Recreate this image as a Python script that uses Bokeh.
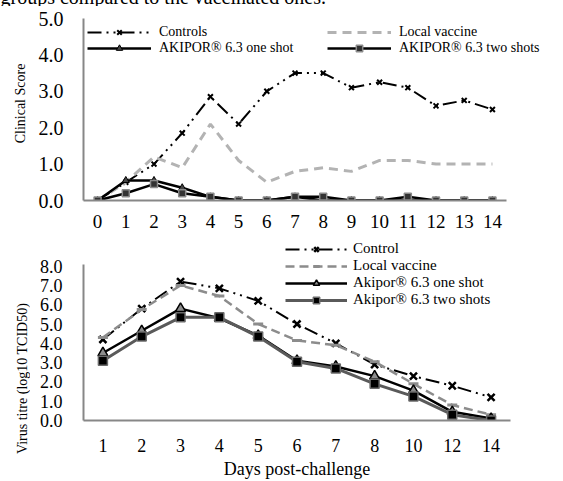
import math
from bokeh.plotting import figure
from bokeh.models import (Range1d, FactorRange, Legend, LegendItem, Label,
                          FixedTicker, NumeralTickFormatter)
from bokeh.layouts import column, row
from bokeh.embed import file_html
from bokeh.resources import INLINE

FONT = "Liberation Serif"
AXIS_GRAY = "#878787"

# ---- Clinical score data ----
days_clin = list(range(15))
controls = [0, 0.5, 1.0, 1.85, 2.85, 2.1, 3.0, 3.5, 3.5, 3.1, 3.25, 3.1, 2.6, 2.75, 2.5]
local_vac = [0, 0.5, 1.2, 0.9, 2.1, 1.1, 0.5, 0.8, 0.9, 0.8, 1.1, 1.1, 1.0, 1.0, 1.0]
one_shot = [0, 0.55, 0.55, 0.35, 0.1, 0, 0, 0.1, 0, 0, 0, 0, 0, 0, 0]
two_shots = [0, 0.2, 0.45, 0.2, 0.1, 0, 0, 0.1, 0.1, 0, 0, 0.1, 0, 0, 0]
clin_yticks = [0, 1, 2, 3, 4, 5]

# ---- Virus titre data ----
days_titre = ["1", "2", "3", "4", "5", "6", "7", "8", "10", "12", "14"]
titre_control = [4.2, 5.8, 7.2, 6.85, 6.2, 5.0, 4.0, 2.9, 2.3, 1.8, 1.2]
titre_local = [4.3, 5.75, 7.0, 6.45, 5.0, 4.15, 3.9, 3.05, 1.9, 0.8, 0.3]
titre_one = [3.5, 4.65, 5.8, 5.3, 4.4, 3.1, 2.8, 2.3, 1.55, 0.45, 0.1]
titre_two = [3.1, 4.35, 5.35, 5.35, 4.35, 3.05, 2.7, 1.9, 1.25, 0.3, 0.0]
titre_yticks = [0, 1, 2, 3, 4, 5, 6, 7, 8]


def blank_fig(w, h):
    f = figure(width=w, height=h, x_axis_type=None, y_axis_type=None,
               output_backend="svg", toolbar_location=None,
               min_border_left=0, min_border_right=0, min_border_top=0, min_border_bottom=0,
               x_range=Range1d(0, 1), y_range=Range1d(0, 1))
    f.outline_line_color = None
    f.xgrid.grid_line_color = None
    f.ygrid.grid_line_color = None
    f.frame_align = False
    return f


def style_axes(p, yfont, xfont):
    p.outline_line_color = None
    p.xgrid.grid_line_color = None
    p.ygrid.grid_line_color = None
    p.frame_align = False
    for ax in (p.xaxis[0], p.yaxis[0]):
        ax.axis_line_color = AXIS_GRAY
        ax.axis_line_width = 2
        ax.major_tick_line_color = None
        ax.minor_tick_line_color = None
        ax.major_label_text_font = FONT
        ax.major_label_text_color = "black"
        ax.axis_label_text_font = FONT
        ax.axis_label_text_font_style = "normal"
        ax.axis_label_text_color = "black"
    p.yaxis[0].major_label_text_font_size = yfont
    p.xaxis[0].major_label_text_font_size = xfont


def style_legend(leg, fs):
    leg.border_line_color = None
    leg.background_fill_alpha = 0
    leg.label_text_font = FONT
    leg.label_text_font_style = "normal"
    leg.label_text_font_size = fs
    leg.label_text_color = "black"
    leg.glyph_width = 64
    leg.glyph_height = 16
    leg.label_height = 16
    leg.spacing = 0
    leg.padding = 0
    leg.margin = 0
    leg.label_standoff = 8


# ================= Caption strip (its upper part lies above the page) =================
pcap = blank_fig(563, 26)
pcap.add_layout(Label(x=0, y=10, x_units="screen", y_units="screen",
                      text="groups compared to the vaccinated ones.",
                      text_font=FONT, text_font_size="20px", text_color="black",
                      text_baseline="alphabetic", text_align="left"))

# ================= Top chart =================
p1 = figure(width=563, height=234, x_range=Range1d(-0.5, 16.52),
            y_range=Range1d(0, 5.0 + 12 / 36.4),
            output_backend="svg", toolbar_location=None,
            min_border_left=83, min_border_right=0, min_border_top=0, min_border_bottom=40)
style_axes(p1, "20px", "19px")
p1.yaxis[0].ticker = FixedTicker(ticks=clin_yticks)
p1.yaxis[0].formatter = NumeralTickFormatter(format="0.0")
p1.yaxis[0].major_label_standoff = 14
p1.yaxis[0].bounds = (0, 5)
p1.yaxis[0].axis_label = "Clinical Score"
p1.yaxis[0].axis_label_text_font_size = "14px"
p1.yaxis[0].axis_label_standoff = 8
p1.xaxis[0].ticker = FixedTicker(ticks=days_clin)
p1.xaxis[0].major_label_standoff = 8
p1.xaxis[0].bounds = (-0.5, 14.5)

c_line = p1.line(days_clin, controls, line_color="black", line_width=2,
                 line_dash="14 5 2 5 2 5")
c_pts = p1.scatter(days_clin, controls, marker="x", size=7, line_color="black", line_width=2)
l_line = p1.line(days_clin, local_vac, line_color="#b3b3b3", line_width=3, line_dash="9 6")
o_line = p1.line(days_clin, one_shot, line_color="black", line_width=2.5)
o_pts = p1.scatter(days_clin, one_shot, marker="triangle", size=7, fill_color="#444444",
                   line_color="black", line_width=1)
t_line = p1.line(days_clin, two_shots, line_color="black", line_width=2.5)
t_pts = p1.scatter(days_clin, two_shots, marker="square", size=7, fill_color="#333333",
                   line_color="#8a8a8a", line_width=1.5)

leg1 = Legend(items=[LegendItem(label="Controls", renderers=[c_line, c_pts]),
                     LegendItem(label="AKIPOR® 6.3 one shot", renderers=[o_line, o_pts])],
              location=(4, 144))
leg2 = Legend(items=[LegendItem(label="Local vaccine", renderers=[l_line]),
                     LegendItem(label="AKIPOR® 6.3 two shots", renderers=[t_line, t_pts])],
              location=(244, 144))
for lg in (leg1, leg2):
    style_legend(lg, "14px")
    p1.add_layout(lg)

# ================= Bottom chart =================
plab = blank_fig(30, 241)
plab.add_layout(Label(x=22, y=103, x_units="screen", y_units="screen",
                      text="Virus titre (log10 TCID50)", angle=math.pi / 2,
                      text_font=FONT, text_font_size="14px", text_color="black",
                      text_align="center", text_baseline="middle"))

p2 = figure(width=533, height=241, x_range=FactorRange(*days_titre, range_padding=0),
            y_range=Range1d(0, 9.33), output_backend="svg", toolbar_location=None,
            min_border_left=53, min_border_right=53, min_border_top=0, min_border_bottom=52)
style_axes(p2, "18px", "18px")
p2.yaxis[0].ticker = FixedTicker(ticks=titre_yticks)
p2.yaxis[0].formatter = NumeralTickFormatter(format="0.0")
p2.yaxis[0].major_label_standoff = 15
p2.yaxis[0].bounds = (0, 8.1)
p2.xaxis[0].major_label_standoff = 12
p2.xaxis[0].axis_label = "Days post-challenge"
p2.xaxis[0].axis_label_text_font_size = "18px"
p2.xaxis[0].axis_label_standoff = 4

bc_line = p2.line(days_titre, titre_control, line_color="black", line_width=2,
                  line_dash="14 5 2 5 2 5")
bc_pts = p2.scatter(days_titre, titre_control, marker="x", size=10, line_color="black",
                    line_width=2.5)
bl_line = p2.line(days_titre, titre_local, line_color="#8c8c8c", line_width=2.5, line_dash="9 5")
bl_pts = p2.scatter(days_titre, titre_local, marker="dash", size=10, line_color="#8c8c8c",
                    line_width=3)
bo_line = p2.line(days_titre, titre_one, line_color="black", line_width=2.5)
bo_pts = p2.scatter(days_titre, titre_one, marker="triangle", size=10, fill_color="#8c8c8c",
                    line_color="black", line_width=1.5)
bt_line = p2.line(days_titre, titre_two, line_color="#5a5a5a", line_width=3)
bt_pts = p2.scatter(days_titre, titre_two, marker="square", size=9, fill_color="black",
                    line_color="#6a6a6a", line_width=1.5)

leg3 = Legend(items=[LegendItem(label="Control", renderers=[bc_line, bc_pts]),
                     LegendItem(label="Local vaccine", renderers=[bl_line, bl_pts]),
                     LegendItem(label="Akipor® 6.3 one shot", renderers=[bo_line, bo_pts]),
                     LegendItem(label="Akipor® 6.3 two shots", renderers=[bt_line, bt_pts])],
              location=(202, 112))
style_legend(leg3, "15px")
leg3.glyph_width = 62
leg3.label_standoff = 6
p2.add_layout(leg3)

# the caption strip is pulled up so that only the lowest part of its line shows
layout = column(pcap, p1, row(plab, p2, spacing=0), spacing=0, margin=(-20, 0, 0, 0))
open("out.html", "w").write(file_html(layout, INLINE))
